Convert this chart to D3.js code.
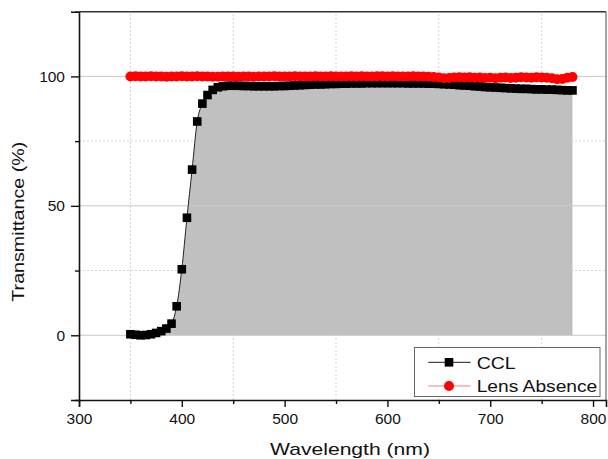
<!DOCTYPE html>
<html><head><meta charset="utf-8">
<script src="https://cdn.jsdelivr.net/npm/d3@7"></script>
<style>body{margin:0;background:#fff}svg{display:block}text{font-family:"Liberation Sans",Arial,sans-serif}</style>
</head><body>
<svg id="c" width="608" height="459"></svg>
<script>
const wavelengths = d3.range(350, 781, 5);
const cclValues = [0.4,0.2,0.0,0.1,0.4,0.9,1.6,2.6,4.5,11.2,25.5,45.4,64.0,82.6,89.5,92.8,94.8,95.8,96.2,96.4,96.4,96.4,96.3,96.3,96.2,96.2,96.2,96.2,96.2,96.3,96.3,96.4,96.5,96.6,96.7,96.8,96.9,96.9,97.0,97.1,97.1,97.2,97.2,97.3,97.3,97.3,97.4,97.4,97.4,97.4,97.4,97.4,97.4,97.4,97.3,97.3,97.3,97.3,97.2,97.2,97.1,97.0,96.9,96.8,96.6,96.5,96.4,96.2,96.1,95.9,95.8,95.7,95.6,95.5,95.4,95.3,95.2,95.2,95.1,95.0,95.0,94.9,94.9,94.8,94.7,94.6,94.6];
const absenceValues = [100.0,100.1,100.0,100.0,100.1,100.0,100.0,99.9,100.0,100.0,100.1,100.0,100.0,100.1,100.0,100.0,99.9,99.9,100.0,100.0,100.0,99.9,100.0,100.0,99.9,100.0,100.0,100.0,100.1,100.0,100.0,100.0,100.1,100.0,100.0,100.0,100.1,100.0,100.0,100.1,100.0,100.0,100.0,100.1,100.0,100.1,100.0,100.0,100.1,100.1,100.0,100.1,100.0,100.0,100.0,100.1,100.0,100.0,99.9,99.8,99.6,99.3,99.4,99.6,99.7,99.6,99.7,99.5,99.6,99.4,99.5,99.3,99.5,99.6,99.4,99.5,99.7,99.6,99.5,99.7,99.6,99.5,99.3,98.9,99.0,99.5,99.8];
const xTicks = [300,400,500,600,700,800];
const xMinor = [350,450,550,650,750];
const yTicks = [0,50,100];
const yMinor = [-25,25,75,125];
const seriesNames = ["CCL","Lens Absence"];

const svg = d3.select("#c");
const x = d3.scaleLinear().domain([300, 812.6]).range([79, 606]);
const y = d3.scaleLinear().domain([-25, 125]).range([400, 11.7]);

const cclData = wavelengths.map((w,i)=>({x:w,y:cclValues[i]}));
const absData = wavelengths.map((w,i)=>({x:w,y:absenceValues[i]}));

// minor dotted grid
svg.append("g").selectAll("line").data(xMinor).join("line")
  .attr("x1",d=>x(d)).attr("x2",d=>x(d)).attr("y1",y(-25)).attr("y2",y(125))
  .attr("stroke","#d4d4d4").attr("stroke-dasharray","2,2").attr("stroke-width",1);
svg.append("g").selectAll("line").data([25,75]).join("line")
  .attr("x1",x(300)).attr("x2",x(812.6)).attr("y1",d=>y(d)).attr("y2",d=>y(d))
  .attr("stroke","#d4d4d4").attr("stroke-dasharray","2,2").attr("stroke-width",1);

// fill area
svg.append("path").datum(cclData)
  .attr("d", d3.area().x(d=>x(d.x)).y0(y(0)).y1(d=>y(d.y)).curve(d3.curveMonotoneX))
  .attr("fill","#c0c0c0");

// major grid
svg.append("g").selectAll("line").data(yTicks).join("line")
  .attr("x1",x(300)).attr("x2",x(812.6)).attr("y1",d=>y(d)).attr("y2",d=>y(d))
  .attr("stroke","#c8c8c8").attr("stroke-width",1);

// CCL line & markers
svg.append("path").datum(cclData)
  .attr("d", d3.line().x(d=>x(d.x)).y(d=>y(d.y)).curve(d3.curveMonotoneX))
  .attr("fill","none").attr("stroke","#222").attr("stroke-width",1);
svg.append("g").selectAll("rect").data(cclData).join("rect")
  .attr("x",d=>x(d.x)-4.3).attr("y",d=>y(d.y)-4.3).attr("width",8.6).attr("height",8.6)
  .attr("fill","#000");

// absence line & markers
svg.append("path").datum(absData)
  .attr("d", d3.line().x(d=>x(d.x)).y(d=>y(d.y)))
  .attr("fill","none").attr("stroke","#f00").attr("stroke-width",1);
svg.append("g").selectAll("circle").data(absData).join("circle")
  .attr("cx",d=>x(d.x)).attr("cy",d=>y(d.y)).attr("r",5)
  .attr("fill","#f00");

// axes
const xAxis = svg.append("g").attr("transform",`translate(0,${y(-25)})`)
  .call(d3.axisBottom(x).tickValues(xTicks).tickSize(7).tickPadding(6).tickFormat(d3.format("d")));
svg.append("g").attr("transform",`translate(0,${y(-25)})`)
  .call(d3.axisBottom(x).tickValues(xMinor).tickSize(4).tickFormat(""))
  .call(g=>g.select(".domain").remove());
const yAxis = svg.append("g").attr("transform",`translate(${x(300)},0)`)
  .call(d3.axisLeft(y).tickValues(yTicks).tickSize(8).tickPadding(6).tickFormat(d3.format("d")));
svg.append("g").attr("transform",`translate(${x(300)},0)`)
  .call(d3.axisLeft(y).tickValues(yMinor).tickSize(4).tickFormat(""))
  .call(g=>g.select(".domain").remove());
svg.selectAll(".domain").attr("stroke","#111").attr("stroke-width",1.6);
svg.selectAll(".tick line").attr("stroke","#111").attr("stroke-width",1.4);
svg.selectAll(".tick text").attr("font-size",15.5).attr("fill","#111")
  .attr("font-family","'Liberation Sans',Arial,sans-serif");
// top & right frame
svg.append("line").attr("x1",x(300)).attr("x2",x(812.6)).attr("y1",y(125)).attr("y2",y(125))
  .attr("stroke","#333").attr("stroke-width",1.4);
svg.append("line").attr("x1",x(812.6)).attr("x2",x(812.6)).attr("y1",y(125)).attr("y2",y(-25))
  .attr("stroke","#666").attr("stroke-width",1.2);

// axis titles
svg.append("text").attr("x",350).attr("y",455).attr("text-anchor","middle")
  .attr("font-size",17).attr("fill","#111").attr("textLength",160).attr("lengthAdjust","spacingAndGlyphs")
  .text("Wavelength (nm)");
svg.append("text").attr("transform","translate(24,221.7) rotate(-90)").attr("text-anchor","middle")
  .attr("font-size",17).attr("fill","#111").attr("textLength",160).attr("lengthAdjust","spacingAndGlyphs")
  .text("Transmittance (%)");

// legend
const lg = svg.append("g");
lg.append("rect").attr("x",414.5).attr("y",347.5).attr("width",185.5).attr("height",49)
  .attr("fill","#fff").attr("stroke","#666").attr("stroke-width",1);
const rows = [{name:seriesNames[0],cy:362.3,line:"#444",mark:"sq"},{name:seriesNames[1],cy:386,line:"#f08080",mark:"ci"}];
rows.forEach(r=>{
  lg.append("line").attr("x1",428.3).attr("x2",470.7).attr("y1",r.cy).attr("y2",r.cy)
    .attr("stroke",r.line).attr("stroke-width",1.2);
  if(r.mark==="sq") lg.append("rect").attr("x",449-4.3).attr("y",r.cy-4.3).attr("width",8.6).attr("height",8.6).attr("fill","#000");
  else lg.append("circle").attr("cx",449).attr("cy",r.cy).attr("r",5).attr("fill","#f00");
  const t = lg.append("text").attr("x",476.7).attr("y",r.cy+6.2).attr("font-size",17).attr("fill","#111").text(r.name);
  if(r.name==="Lens Absence") t.attr("textLength",120.6).attr("lengthAdjust","spacingAndGlyphs");
  else t.attr("textLength",39).attr("lengthAdjust","spacingAndGlyphs");
});
</script>
</body></html>
